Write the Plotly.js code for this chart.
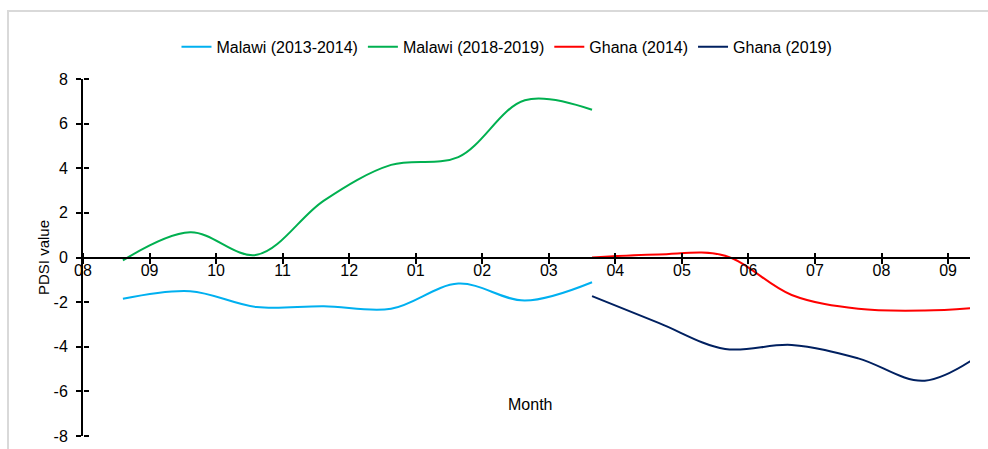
<!DOCTYPE html>
<html>
<head>
<meta charset="utf-8">
<script src="https://cdn.plot.ly/plotly-3.0.1.min.js"></script>
<style>
  body { margin: 0; background: #fff; }
  #wrap { position: relative; width: 988px; height: 449px; }
  #chart { position: absolute; left: 0; top: 0; width: 988px; height: 449px; }
  #frame { position: absolute; left: 7px; top: 10px; right: 0; bottom: 0;
           border-left: 2px solid #d9d9d9; border-top: 2px solid #d9d9d9; pointer-events: none; }
</style>
</head>
<body>
<div id="wrap">
  <div id="chart"></div>
  <div id="frame"></div>
</div>
<script>
// month tick labels (Aug .. Sep of following year)
const month_labels = ['08', '09', '10', '11', '12', '01', '02', '03', '04', '05', '06', '07', '08', '09']
const month_ticks = [0, 1, 2, 3, 4, 5, 6, 7, 8, 9, 10, 11, 12, 13]

// Malawi season (Aug-Mar)
const malawi_x = [0.6, 1.61, 2.61, 3.62, 4.63, 5.64, 6.64, 7.65]
const malawi_2013_2014 = [-1.85, -1.51, -2.22, -2.18, -2.3, -1.17, -1.93, -1.11]
const malawi_2018_2019 = [-0.13, 1.13, 0.12, 2.55, 4.15, 4.5, 7.05, 6.62]

// Ghana season (Mar-Sep)
const ghana_x = [7.65, 8.65, 9.65, 10.65, 11.65, 12.65, 13.65]
const ghana_2014 = [0.0, 0.14, 0.08, -1.68, -2.3, -2.38, -2.2]
const ghana_2019 = [-1.73, -2.93, -4.1, -3.92, -4.52, -5.52, -4.0]

const y_ticks = [-8, -6, -4, -2, 0, 2, 4, 6, 8]
const y_labels = ['-8', '-6', '-4', '-2', '0', '2', '4', '6', '8']

function series(name, x, y, color) {
  return {
    x: x, y: y, name: name,
    type: 'scatter', mode: 'lines',
    line: {color: color, width: 2, shape: 'spline', smoothing: 1},
    hoverinfo: 'x+y'
  }
}

let traces = [
  series('Malawi (2013-2014)', malawi_x, malawi_2013_2014, '#00B0F0'),
  series('Malawi (2018-2019)', malawi_x, malawi_2018_2019, '#00B050'),
  series('Ghana (2014)', ghana_x, ghana_2014, '#FF0000'),
  series('Ghana (2019)', ghana_x, ghana_2019, '#002060'),
  // invisible trace on a second subplot whose axes give the other half of each tick
  {x: [1], y: [0], xaxis: 'x2', yaxis: 'y2', type: 'scatter', mode: 'markers',
   marker: {size: 1, opacity: 0}, showlegend: false, hoverinfo: 'skip'}
]

const x_range = [0, 13.33]
const tick_font = {family: 'Liberation Sans, Arial, sans-serif', size: 16, color: '#000'}

var layout = {
  width: 988,
  height: 449,
  margin: {l: 83, r: 18, t: 79, b: 13},
  paper_bgcolor: 'rgba(0,0,0,0)',
  plot_bgcolor: 'rgba(0,0,0,0)',
  font: {family: 'Liberation Sans, Arial, sans-serif', size: 16, color: '#000'},
  showlegend: true,
  legend: {
    orientation: 'h',
    x: 0.478, xanchor: 'center',
    y: 1.09, yanchor: 'middle',
    font: {size: 16},
    tracegroupgap: 0
  },
  xaxis: {
    range: x_range,
    anchor: 'free', position: 0.5,
    showline: true, linecolor: '#000', linewidth: 2,
    ticks: 'outside', ticklen: 5, tickwidth: 2, tickcolor: '#000',
    tickvals: month_ticks, ticktext: month_labels,
    tickfont: tick_font,
    ticklabelstandoff: -7,
    showgrid: false, zeroline: false, fixedrange: true
  },
  xaxis2: {
    range: x_range, domain: [0, 1],
    anchor: 'free', position: 0.5, side: 'top',
    showline: false,
    ticks: 'outside', ticklen: 5, tickwidth: 2, tickcolor: '#000',
    tickvals: month_ticks, showticklabels: false,
    showgrid: false, zeroline: false
  },
  yaxis: {
    range: [-8, 8],
    showline: true, linecolor: '#000', linewidth: 2,
    ticks: 'outside', ticklen: 5, tickwidth: 2, tickcolor: '#000',
    tickvals: y_ticks, ticktext: y_labels,
    tickfont: tick_font,
    ticklabelstandoff: 5,
    showgrid: false, zeroline: false, fixedrange: true
  },
  yaxis2: {
    range: [-8, 8], domain: [0, 1],
    anchor: 'free', position: 0, side: 'right',
    showline: false,
    ticks: 'outside', ticklen: 5, tickwidth: 2, tickcolor: '#000',
    tickvals: y_ticks, showticklabels: false,
    showgrid: false, zeroline: false
  },
  annotations: [
    {text: 'Month', xref: 'paper', yref: 'paper', x: 0.5045, y: 0.087,
     xanchor: 'center', yanchor: 'middle', showarrow: false, font: {size: 16}},
    {text: 'PDSI value', xref: 'paper', yref: 'paper', x: -0.0451, y: 0.5014,
     xanchor: 'center', yanchor: 'middle', textangle: -90, showarrow: false, font: {size: 15}}
  ]
}

Plotly.newPlot('chart', traces, layout, {displayModeBar: false, staticPlot: true})
</script>
</body>
</html>
